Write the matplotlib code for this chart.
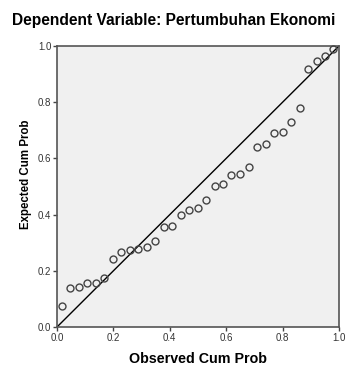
import matplotlib
matplotlib.use("Agg")
import matplotlib.pyplot as plt

# Observed vs expected cumulative probabilities
observed = [0.017, 0.046, 0.077, 0.107, 0.137, 0.168, 0.199, 0.228, 0.258, 0.287,
            0.318, 0.346, 0.378, 0.409, 0.438, 0.469, 0.499, 0.530, 0.559, 0.589,
            0.618, 0.648, 0.681, 0.710, 0.741, 0.771, 0.800, 0.830, 0.861, 0.891,
            0.921, 0.950, 0.980]
expected = [0.075, 0.139, 0.142, 0.158, 0.158, 0.174, 0.242, 0.268, 0.273, 0.278,
            0.285, 0.306, 0.356, 0.359, 0.399, 0.416, 0.425, 0.452, 0.503, 0.509,
            0.541, 0.544, 0.570, 0.642, 0.652, 0.691, 0.694, 0.731, 0.778, 0.917,
            0.946, 0.966, 0.990]
ticks = [0.0, 0.2, 0.4, 0.6, 0.8, 1.0]
tick_labels = ["0.0", "0.2", "0.4", "0.6", "0.8", "1.0"]

plt.rcParams['font.family'] = ['Liberation Sans', 'DejaVu Sans']

fig = plt.figure(figsize=(3.47, 3.69), dpi=100)
ax = fig.add_axes([57 / 347, 42 / 369, 282 / 347, 281 / 369])
ax.set_facecolor('#f0f0f0')

# reference diagonal
ax.plot([0, 1], [0, 1], color='black', linewidth=1.0, zorder=2)
ax.plot(observed, expected, linestyle='none', marker='o', markersize=5,
        markerfacecolor='none', markeredgecolor='#444444', markeredgewidth=1.0,
        zorder=3, clip_on=False)

ax.set_xlim(0, 1)
ax.set_ylim(0, 1)
ax.set_xticks(ticks)
ax.set_xticklabels(tick_labels)
ax.set_yticks(ticks)
ax.set_yticklabels(tick_labels)
ax.tick_params(direction='out', length=3, width=1, colors='#444444',
               labelsize=7, labelcolor='#333333', pad=1)

for side in ['left', 'bottom', 'right', 'top']:
    ax.spines[side].set_color('#555555')
    ax.spines[side].set_linewidth(1.2)

ax.set_xlabel('Observed Cum Prob', fontsize=10.3, fontweight='bold', labelpad=7)
ax.set_ylabel('Expected Cum Prob', fontsize=8.3, fontweight='bold')
ax.yaxis.set_label_coords(-0.089, 0.544)
fig.text(0.5, 1 - 21 / 369, 'Dependent Variable: Pertumbuhan Ekonomi',
         ha='center', va='center', fontsize=11.2, fontweight='bold')

fig.savefig('out.png', dpi=100)
